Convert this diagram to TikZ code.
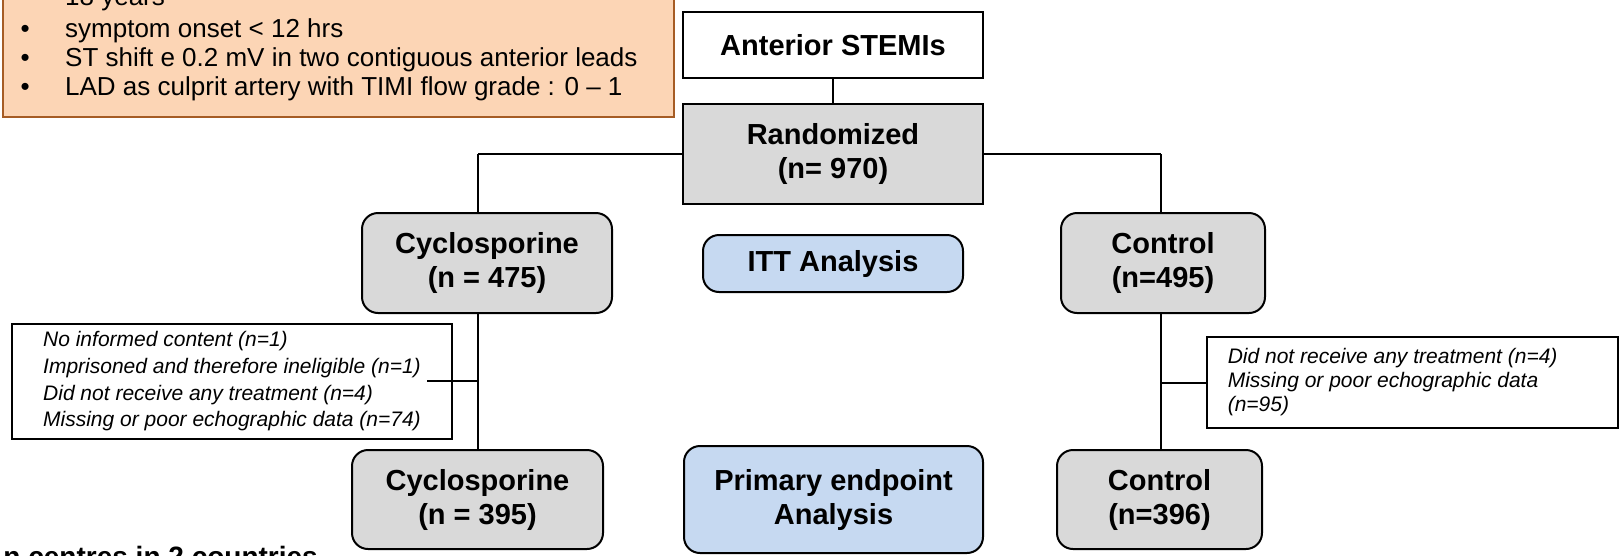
\documentclass[tikz,border=0pt]{standalone}
\usepackage{fontspec}
\setmainfont{Liberation Sans}
\definecolor{grayfill}{HTML}{D9D9D9}
\definecolor{bluefill}{HTML}{C6D9F1}
\definecolor{peach}{HTML}{FCD5B5}
\definecolor{brownline}{HTML}{A65C24}
\begin{document}
\begin{tikzpicture}[x=1pt,y=-1pt,
  boxbase/.style={draw=black, line width=2pt, align=center, inner sep=0pt,
    font=\fontsize{29}{34}\selectfont\bfseries},
  plainbox/.style={boxbase, fill=white},
  grayrect/.style={boxbase, fill=grayfill},
  grayround/.style={boxbase, fill=grayfill, rounded corners=16pt},
  blueround/.style={boxbase, fill=bluefill, rounded corners=16pt},
  notebox/.style={draw=black, line width=1.5pt, fill=white, align=left,
    inner xsep=21pt, inner ysep=0pt, font=\fontsize{21}{26.7}\selectfont\itshape},
  critbox/.style={draw=brownline, fill=peach, line width=2pt, inner sep=0pt},
  crittext/.style={anchor=base west, inner sep=0pt, font=\fontsize{26}{29}\selectfont},
  link/.style={draw=black, line width=2pt},
]
\useasboundingbox (0,0) rectangle (1624,555);

% criteria box (top clipped)
\node[critbox, minimum width=671pt, minimum height=150pt] (crit) at (338.5,42) {};
\node[crittext] (c0) at (65,5.5) {18 years};
\node[crittext] (c1) at (20.5,37) {\makebox[44.5pt][l]{•}symptom onset < 12 hrs};
\node[crittext] (c2) at (20.5,66) {\makebox[44.5pt][l]{•}ST shift e 0.2 mV in two contiguous anterior leads};
\node[crittext] (c3) at (20.5,95) {\makebox[44.5pt][l]{•}LAD as culprit artery with TIMI flow grade : 0 – 1};

% junction coordinates
\coordinate (tl) at (478,154);
\coordinate (tr) at (1161,154);

\node[plainbox, minimum width=300pt, minimum height=66pt] (stemi) at (833,45) {Anterior STEMIs};
\node[grayrect, minimum width=300pt, minimum height=100pt] (rand) at (833,154) {Randomized\\(n= 970)};
\draw[link] (stemi.south) -- (rand.north);
\draw[link] (rand.west) -- (tl);
\draw[link] (rand.east) -- (tr);

\node[grayround, minimum width=250pt, minimum height=100pt] (cycT) at (487,263) {Cyclosporine\\(n = 475)};
\node[blueround, minimum width=260pt, minimum height=57pt] (itt) at (833,263.5) {ITT Analysis};
\node[grayround, minimum width=204pt, minimum height=100pt] (ctrlT) at (1163,263) {Control\\(n=495)};

\node[grayround, minimum width=251pt, minimum height=99pt] (cycB) at (477.5,499.5) {Cyclosporine\\(n = 395)};
\node[blueround, minimum width=299pt, minimum height=107pt] (prim) at (833.5,499.5) {Primary endpoint\\Analysis};
\node[grayround, minimum width=205pt, minimum height=99pt] (ctrlB) at (1159.5,499.5) {Control\\(n=396)};

\draw[link] (tl) -- (tl |- cycT.north);
\draw[link] (tr) -- (tr |- ctrlT.north);
\draw[link] (tl |- cycT.south) -- (tl |- cycB.north);
\draw[link] (tr |- ctrlT.south) -- (tr |- ctrlB.north);

% exclusion notes
\node[notebox, minimum width=440pt, minimum height=115pt] (noteL) at (232,381.5)
  {No informed content (n=1)\\Imprisoned and therefore ineligible (n=1)\\Did not receive any treatment (n=4)\\Missing or poor echographic data (n=74)};
\node[notebox, minimum width=411pt, minimum height=91pt, anchor=west,
  font=\fontsize{21}{24}\selectfont\itshape] (noteR) at (1206,382.5)
  {\parbox{369pt}{Did not receive any treatment (n=4)\\Missing or poor echographic data\\(n=95)}};

\coordinate (nl) at (427,381);
\draw[link] (nl) -- (nl -| tl);
\draw[link] (tr |- noteR.west) -- (noteR.west);

% bottom caption (clipped)
\node[anchor=base east, inner sep=0pt, font=\fontsize{28}{34}\selectfont\bfseries] (sites) at (318,566) {n centres in 2 countries};
\end{tikzpicture}
\end{document}
